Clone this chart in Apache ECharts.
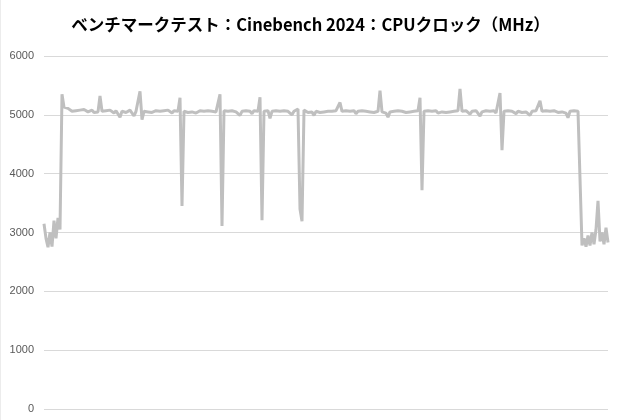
<!DOCTYPE html>
<html>
<head>
<meta charset="utf-8">
<script src="https://cdn.jsdelivr.net/npm/echarts@6/dist/echarts.min.js"></script>
<style>
html,body{margin:0;padding:0;background:#fff;}
#c{width:620px;height:420px;box-sizing:border-box;border-left:1px solid #ececec;}
</style>
</head>
<body>
<div id="c"></div>
<script>
const titleText = "ベンチマークテスト：Cinebench 2024：CPUクロック（MHz）";
const yTicks = [0, 1000, 2000, 3000, 4000, 5000, 6000];
const clockMHz = [
  3150, 2900, 2750, 3000, 2760, 3200, 2900, 3250, 3050, 5350,
  5130, 5120, 5110, 5090, 5060, 5050, 5070, 5040, 5080, 5060,
  5090, 5070, 5050, 5060, 5080, 5040, 5070, 5050, 5320, 5060,
  5050, 5070, 5040, 5080, 5060, 5030, 5070, 5050, 4960, 5060,
  5070, 5040, 5060, 5080, 5050, 4980, 5060, 5070, 5400, 4920,
  5060, 5070, 5050, 5080, 5040, 5060, 5070, 5050, 5060, 5040,
  5070, 5050, 5080, 5060, 5030, 5070, 5050, 5060, 5290, 3450,
  5060, 5070, 5040, 5060, 5050, 5080, 5030, 5060, 5070, 5050,
  5060, 5040, 5070, 5050, 5060, 5080, 5050, 5060, 5350, 3110,
  5070, 5050, 5060, 5040, 5070, 5060, 5050, 5080, 4990, 5060,
  5050, 5070, 5040, 5060, 5020, 5070, 5050, 5060, 5300, 3210,
  5060, 5050, 5070, 4940, 5060, 5040, 5070, 5050, 5060, 5030,
  5070, 5050, 5060, 5040, 5000, 5060, 5070, 5100, 3400, 3190,
  5080, 5060, 5040, 5070, 5050, 4990, 5060, 5070, 5040, 5060,
  5050, 5070, 5060, 5030, 5060, 5050, 5070, 5060, 5210, 5060,
  5050, 5070, 5040, 5060, 5050, 5070, 5020, 5060, 5050, 5070,
  5040, 5060, 5070, 5050, 5060, 5040, 5070, 5060, 5410, 5050,
  5060, 5030, 4960, 5050, 5070, 5060, 5040, 5070, 5050, 5060,
  5070, 5040, 5060, 5050, 5080, 5060, 5050, 5070, 5290, 3720,
  5060, 5050, 5070, 5040, 5060, 5050, 5070, 5030, 5060, 5050,
  5070, 5040, 5060, 5050, 5070, 5060, 5040, 5070, 5440, 5060,
  5050, 5070, 5040, 5010, 5060, 5050, 5070, 5060, 4980, 5050,
  5060, 5070, 5040, 5060, 5050, 5070, 5030, 5060, 5370, 4400,
  5060, 5050, 5070, 5040, 5060, 5050, 5020, 5060, 5070, 5040,
  5060, 5050, 5070, 4990, 5060, 5050, 5070, 5060, 5240, 5060,
  5050, 5070, 5040, 5060, 5050, 5070, 5060, 5040, 5060, 5050,
  5070, 5030, 4950, 5060, 5050, 5070, 5060, 5060, 5060, 2780,
  2900, 2760, 2950, 2780, 3000, 2800, 3050, 3540, 2850, 3000,
  2800, 3080, 2830
];
const sampleIndex = clockMHz.map((v, i) => String(i + 1));

const chart = echarts.init(document.getElementById('c'), null, {renderer: 'canvas'});
chart.setOption({
  animation: false,
  backgroundColor: '#ffffff',
  title: {
    text: titleText,
    left: 'center',
    top: 11,
    textStyle: {
      fontFamily: '"Noto Sans CJK JP", "Noto Sans", sans-serif',
      fontSize: 16.5,
      fontWeight: 'bold',
      color: '#000000'
    }
  },
  grid: {left: 43, right: 12, top: 56, bottom: 11, containLabel: false},
  xAxis: {
    type: 'category',
    data: sampleIndex,
    boundaryGap: false,
    axisLine: {show: false},
    axisTick: {show: false},
    axisLabel: {show: false},
    splitLine: {show: false}
  },
  yAxis: {
    type: 'value',
    min: yTicks[0],
    max: yTicks[yTicks.length - 1],
    interval: 1000,
    axisLine: {show: false},
    axisTick: {show: false},
    axisLabel: {
      color: '#595959',
      fontSize: 11,
      fontFamily: '"Liberation Sans", "Noto Sans", sans-serif',
      margin: 10,
      formatter: function (v) { return String(v); }
    },
    splitLine: {lineStyle: {color: '#d9d9d9', width: 1}}
  },
  series: [{
    type: 'line',
    data: clockMHz,
    showSymbol: false,
    symbol: 'none',
    lineStyle: {color: '#bfbfbf', width: 3, join: 'bevel'},
    itemStyle: {color: '#bfbfbf'}
  }]
});
</script>
</body>
</html>
